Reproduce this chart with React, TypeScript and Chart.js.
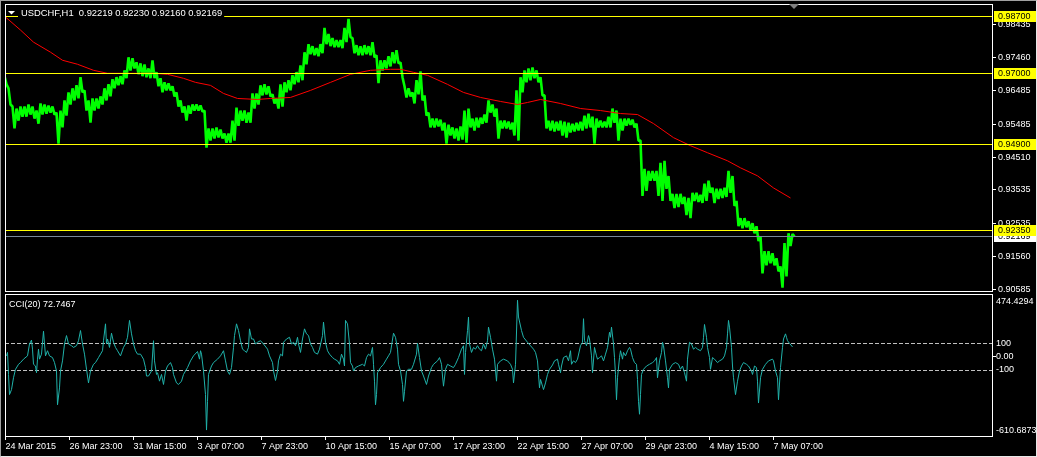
import React, { useEffect, useRef } from 'react';
import { Chart, registerables } from 'chart.js';

Chart.register(...registerables);

const FONT_FAMILY = '"Liberation Sans", Arial, sans-serif';
const FONT9 = '9px "Liberation Sans", Arial, sans-serif';
const FONT_TITLE = '9.4px "Liberation Sans", Arial, sans-serif';

const SYMBOL_TITLE = 'USDCHF,H1  0.92219 0.92230 0.92160 0.92169';
const CCI_TITLE = 'CCI(20) 72.7467';

// each price sample covers 4 hourly bars
const BAR_STEP = 4;
const highs = [
  0.9691, 0.9655, 0.9601, 0.9595, 0.9601, 0.9601, 0.9607, 0.9601, 0.9589, 0.9610,
  0.9607, 0.9604, 0.9601, 0.9583, 0.9589, 0.9619, 0.9643, 0.9655, 0.9664, 0.9688,
  0.9649, 0.9619, 0.9625, 0.9625, 0.9631, 0.9655, 0.9667, 0.9682, 0.9688, 0.9691,
  0.9708, 0.9747, 0.9744, 0.9732, 0.9729, 0.9726, 0.9714, 0.9738, 0.9703, 0.9685,
  0.9673, 0.9670, 0.9661, 0.9643, 0.9619, 0.9601, 0.9604, 0.9607, 0.9607, 0.9604,
  0.9589, 0.9536, 0.9536, 0.9539, 0.9533, 0.9521, 0.9521, 0.9559, 0.9598, 0.9589,
  0.9589, 0.9583, 0.9640, 0.9640, 0.9664, 0.9667, 0.9661, 0.9637, 0.9625, 0.9667,
  0.9673, 0.9679, 0.9694, 0.9703, 0.9723, 0.9762, 0.9786, 0.9780, 0.9774, 0.9786,
  0.9834, 0.9816, 0.9804, 0.9798, 0.9798, 0.9834, 0.9861, 0.9804, 0.9783, 0.9780,
  0.9783, 0.9780, 0.9792, 0.9753, 0.9738, 0.9738, 0.9750, 0.9762, 0.9768, 0.9732,
  0.9661, 0.9655, 0.9643, 0.9679, 0.9705, 0.9634, 0.9583, 0.9565, 0.9565, 0.9562,
  0.9553, 0.9547, 0.9539, 0.9536, 0.9542, 0.9589, 0.9595, 0.9565, 0.9568, 0.9568,
  0.9577, 0.9619, 0.9607, 0.9595, 0.9559, 0.9559, 0.9556, 0.9553, 0.9649, 0.9688,
  0.9708, 0.9714, 0.9717, 0.9708, 0.9688, 0.9634, 0.9559, 0.9559, 0.9556, 0.9559,
  0.9556, 0.9553, 0.9550, 0.9553, 0.9556, 0.9574, 0.9580, 0.9571, 0.9565, 0.9559,
  0.9556, 0.9571, 0.9595, 0.9589, 0.9565, 0.9565, 0.9565, 0.9562, 0.9550, 0.9500,
  0.9416, 0.9410, 0.9410, 0.9410, 0.9434, 0.9440, 0.9395, 0.9342, 0.9342, 0.9342,
  0.9333, 0.9330, 0.9345, 0.9345, 0.9339, 0.9372, 0.9381, 0.9360, 0.9357, 0.9357,
  0.9360, 0.9410, 0.9395, 0.9321, 0.9270, 0.9270, 0.9261, 0.9255, 0.9246, 0.9216,
  0.9172, 0.9172, 0.9166, 0.9151, 0.9127, 0.9196, 0.9225, 0.9223,
];
const lows = [
  0.9667, 0.9607, 0.9536, 0.9559, 0.9571, 0.9571, 0.9577, 0.9565, 0.9550, 0.9577,
  0.9580, 0.9583, 0.9577, 0.9491, 0.9539, 0.9574, 0.9607, 0.9619, 0.9625, 0.9643,
  0.9589, 0.9553, 0.9589, 0.9595, 0.9607, 0.9619, 0.9631, 0.9655, 0.9664, 0.9667,
  0.9685, 0.9708, 0.9714, 0.9697, 0.9691, 0.9688, 0.9685, 0.9685, 0.9661, 0.9643,
  0.9649, 0.9649, 0.9631, 0.9601, 0.9583, 0.9559, 0.9580, 0.9589, 0.9589, 0.9586,
  0.9479, 0.9500, 0.9506, 0.9509, 0.9506, 0.9494, 0.9494, 0.9500, 0.9544, 0.9559,
  0.9553, 0.9553, 0.9595, 0.9607, 0.9634, 0.9637, 0.9631, 0.9610, 0.9595, 0.9601,
  0.9643, 0.9649, 0.9667, 0.9673, 0.9679, 0.9726, 0.9756, 0.9753, 0.9750, 0.9759,
  0.9786, 0.9780, 0.9777, 0.9777, 0.9774, 0.9792, 0.9807, 0.9759, 0.9753, 0.9753,
  0.9756, 0.9753, 0.9747, 0.9670, 0.9708, 0.9714, 0.9720, 0.9729, 0.9729, 0.9688,
  0.9628, 0.9631, 0.9610, 0.9637, 0.9619, 0.9574, 0.9539, 0.9539, 0.9542, 0.9530,
  0.9491, 0.9515, 0.9506, 0.9500, 0.9503, 0.9494, 0.9539, 0.9530, 0.9539, 0.9550,
  0.9553, 0.9583, 0.9571, 0.9506, 0.9536, 0.9536, 0.9533, 0.9515, 0.9500, 0.9643,
  0.9673, 0.9679, 0.9685, 0.9673, 0.9634, 0.9536, 0.9530, 0.9527, 0.9530, 0.9515,
  0.9509, 0.9524, 0.9527, 0.9530, 0.9530, 0.9536, 0.9539, 0.9491, 0.9539, 0.9539,
  0.9539, 0.9539, 0.9553, 0.9500, 0.9530, 0.9544, 0.9547, 0.9539, 0.9500, 0.9336,
  0.9351, 0.9381, 0.9381, 0.9336, 0.9321, 0.9357, 0.9321, 0.9300, 0.9303, 0.9312,
  0.9279, 0.9270, 0.9321, 0.9318, 0.9315, 0.9321, 0.9345, 0.9315, 0.9327, 0.9330,
  0.9333, 0.9345, 0.9306, 0.9246, 0.9240, 0.9243, 0.9234, 0.9225, 0.9202, 0.9106,
  0.9130, 0.9136, 0.9130, 0.9112, 0.9064, 0.9097, 0.9187, 0.9216,
];

// moving average (red)
const maBars = [0, 15, 28, 45, 57, 72, 88, 102, 128, 148, 162, 178, 190, 205, 218, 232, 252, 265, 285, 305,
  325, 345, 365, 385, 395, 408, 422, 442, 458, 475, 495, 512, 522, 535, 555, 575, 595, 615, 632, 648,
  668, 685, 702, 722, 735, 752, 768, 785];
const maValues = [0.98664, 0.98277, 0.97919, 0.97621, 0.97382, 0.97263, 0.97084, 0.96995, 0.96995, 0.96995,
  0.96965, 0.96846, 0.96726, 0.96637, 0.96398, 0.96249, 0.96219, 0.96249, 0.96279, 0.96488,
  0.96726, 0.96965, 0.97084, 0.97114, 0.97114, 0.97024, 0.96935, 0.96667, 0.96428, 0.96279,
  0.96160, 0.96070, 0.96130, 0.96219, 0.96100, 0.95951, 0.95891, 0.95802, 0.95772, 0.95504,
  0.95087, 0.94848, 0.94640, 0.94401, 0.94192, 0.93954, 0.93596, 0.93298];

// CCI(20)
const cciBars = [1, 2, 3, 4, 6, 8, 10, 12, 13, 15, 18, 22, 24, 26, 27, 28, 30, 31, 32, 33, 34, 36, 38, 39, 40, 42, 44, 47, 49, 51,
  52, 54, 55, 57, 59, 61, 63, 66, 68, 71, 73, 75, 77, 79, 81, 83, 85, 88, 90, 93, 97, 98, 100, 101, 102, 104, 106, 108, 110, 112,
  115, 118, 120, 122, 124, 126, 128, 130, 132, 135, 138, 140, 141, 143, 146, 148, 149, 151, 152, 154, 156, 158, 160, 162, 165, 167, 168, 171, 173, 176,
  178, 182, 185, 188, 192, 194, 195, 196, 198, 200, 201, 202, 203, 206, 208, 212, 215, 218, 220, 222, 224, 226, 228, 229, 231, 233, 235, 237, 239, 241,
  243, 244, 246, 248, 250, 252, 255, 258, 262, 264, 267, 268, 270, 272, 273, 275, 277, 278, 281, 284, 286, 288, 290, 292, 293, 295, 297, 299, 301, 303,
  305, 307, 309, 312, 314, 317, 318, 320, 322, 324, 327, 329, 332, 334, 336, 338, 339, 340, 342, 344, 345, 347, 348, 350, 353, 357, 359, 361, 363, 365,
  367, 368, 369, 370, 371, 372, 375, 378, 381, 383, 385,
  388, 390, 392, 393, 395, 397, 398, 399, 401, 403, 406, 408, 411, 412, 414, 416, 418, 421, 423, 426, 428, 432, 434, 436, 437, 438, 440, 442, 445, 448,
  450, 453, 456, 458, 459, 460, 462, 463, 464, 466, 468, 470, 472, 474, 476, 478, 480, 482, 483, 485, 487, 489, 491, 492, 495, 498, 502, 505, 507, 508,
  510, 512, 513, 516, 518, 522, 525, 528, 530, 532, 533, 534, 535, 537, 538, 540, 542, 544, 547, 549, 552, 553, 555, 556, 558, 561, 563, 565, 566, 568,
  570, 572, 575, 577, 578, 579, 581, 583, 584, 586, 587, 589, 591, 592, 594, 596, 598, 600, 602, 604, 605, 606, 608, 609, 610, 611, 612, 614, 615, 617,
  618, 620, 622, 624, 625, 627, 629, 631, 632, 633, 634, 635, 636, 638, 641, 644, 647, 649, 651, 652, 654, 656, 657, 658, 660, 662, 663, 664, 667, 670,
  673, 675, 677, 679, 681, 682, 684, 686, 688, 690, 692, 695, 697, 698, 699, 701, 702, 704, 705, 707, 709, 712, 714, 717, 719, 721, 722, 723, 724, 726,
  727, 728, 730, 732, 734, 736, 738, 741, 743, 746, 747, 749, 751, 752, 753, 755, 757, 760, 763, 767, 768, 770, 772, 773, 775, 777, 778, 780, 781, 782,
  784, 787];
const cciValues = [5, 31, -136, -289, -251, -161, -97, -72, -59, -46, -20, 5, 95, 125, 56, -59, -72, -123, -20, 56, -20, 18, 192, 95, 5, 44, 5, -8, -46, -110,
  -366, -238, -110, -33, 95, 159, 95, 82, 69, 82, 120, 197, 95, 18, -97, -200, -110, -59, -46, -8, 44, 120, 248, 95, 133, 69, 177, 108, 69, 44,
  5, 69, 95, 146, 274, 172, 95, 44, 18, 18, -20, -84, -148, -148, -110, 120, -33, -136, -123, -187, -136, -212, -110, -72, -46, -84, -136, -200, -212, -187,
  -136, -84, -33, 5, 38, -20, 44, 18, -110, -289, -558, -340, -136, -72, -46, -20, 5, 44, -33, -110, -136, -84, 69, 159, 248, 197, 120, 56, 44, 31,
  69, 210, 133, 133, 95, 108, 120, 95, 56, 5, -46, -110, -182, -110, -33, 18, 5, 108, 133, 146, 95, 108, 82, 146, 95, 31, 133, 210, 172, 159,
  95, 69, 31, 18, 56, 159, 261, 108, 44, 18, -8, -20, -33, -59, 18, -20, -72, 274, 248, 95, -46, -72, -110, -84, -72, -59, -72, -8, 18, 5,
  69, -59, -187, -366, -289, -123, -84, -59, -20, 5, 31,
  177, 146, 56, -59, -110, -212, -340, -264, -110, -97, -97, -59, 18, 100, -8, -110, -148, -212, -148, -84, -59, -33, -8, -59, -148, -225, -97, -59, -72, -84,
  -59, -8, 56, 82, -136, 31, 197, 300, 95, 31, 69, 56, 82, 56, 44, 95, 56, 120, 223, 146, 56, -20, -187, -59, -33, -20, -33, -59, -97, -200,
  -59, 427, 300, 197, 146, 108, 82, 56, 31, -33, -136, -238, -174, -225, -251, -200, -136, -97, -64, -33, -20, -59, -123, -72, -8, 5, -33, 44, -59, -33,
  -46, -20, 82, 108, 287, 120, 82, 159, 133, 5, -123, 69, 5, -20, -8, 5, -33, 18, 69, 184, 146, 223, 95, -8, -136, -328, -161, -8, 44, -20,
  31, 5, 44, 69, 56, -8, -46, -59, -174, -340, -438, -289, -136, -97, -72, -59, -46, -33, -8, -161, -33, 31, 108, 82, -33, -161, -238, -97, -59, -46,
  -59, -97, -72, -123, -187, -20, 108, 95, 56, 69, 56, 44, 69, 146, 243, 146, 69, -8, -97, -8, -20, -46, -33, -20, 5, 69, 172, 274, 223, 69,
  -72, -161, -289, -187, -110, -72, -46, -59, -72, -110, -136, -72, -84, -187, -353, -161, -97, -59, -33, -20, -33, -110, -161, -328, -84, 69, 133, 172, 146, 120,
  100, 72.7467];

const priceTicks = [0.98435, 0.97460, 0.96485, 0.95485, 0.94510, 0.93535, 0.92535, 0.91560, 0.90585];
const levelLines = [0.987, 0.97, 0.949, 0.9235];
const bidPrice = 0.92169;
const PRICE_MIN = 0.9051;
const PRICE_MAX = 0.9905;

const CCI_MAX = 474.4294;
const CCI_MIN = -610.6873;
const cciLevels = [100, -100];
const cciAxisTicks = [100, 0, -100];

const timeTickBars = [0, 64, 128, 192, 256, 320, 384, 448, 512, 576, 640, 704, 768];
const timeLabels = ['24 Mar 2015', '26 Mar 23:00', '31 Mar 15:00', '3 Apr 07:00', '7 Apr 23:00', '10 Apr 15:00',
  '15 Apr 07:00', '17 Apr 23:00', '22 Apr 15:00', '27 Apr 07:00', '29 Apr 23:00', '4 May 15:00', '7 May 07:00'];

const X_MIN = -0.5;
const X_MAX = 987.5;
const LAST_BAR = (highs.length - 1) * BAR_STEP;

const W = 1037;
const H1 = 293;
const H2 = 164;

const pricePlugin = {
  id: 'pricePlugin',
  afterDatasetsDraw(chart: any) {
    const { ctx, chartArea: a, scales } = chart;
    const y = scales.y;
    ctx.save();
    ctx.lineWidth = 1;
    const by = Math.round(y.getPixelForValue(bidPrice)) + 0.5;
    ctx.strokeStyle = '#778899';
    ctx.beginPath();
    ctx.moveTo(a.left, by);
    ctx.lineTo(a.right, by);
    ctx.stroke();
    ctx.strokeStyle = '#ffff00';
    levelLines.forEach((v) => {
      const py = Math.round(y.getPixelForValue(v)) + 0.5;
      ctx.beginPath();
      ctx.moveTo(a.left, py);
      ctx.lineTo(a.right, py);
      ctx.stroke();
    });
    ctx.restore();
  },
  afterDraw(chart: any) {
    const { ctx, chartArea: a, scales } = chart;
    const y = scales.y;
    const x = scales.x;
    ctx.save();
    ctx.strokeStyle = '#ffffff';
    ctx.lineWidth = 1;
    ctx.strokeRect(a.left + 0.5, a.top + 0.5, a.right - a.left - 1, a.bottom - a.top - 1);
    // title
    ctx.font = FONT_TITLE;
    ctx.textAlign = 'left';
    ctx.textBaseline = 'alphabetic';
    const tw = ctx.measureText(SYMBOL_TITLE).width;
    ctx.fillStyle = '#000000';
    ctx.fillRect(a.left + 13, a.top + 3, tw + 5, 11);
    ctx.fillStyle = '#ffffff';
    ctx.beginPath();
    ctx.moveTo(a.left + 3, a.top + 7);
    ctx.lineTo(a.left + 10, a.top + 7);
    ctx.lineTo(a.left + 6.5, a.top + 10.5);
    ctx.closePath();
    ctx.fill();
    ctx.fillText(SYMBOL_TITLE, a.left + 16, a.top + 12);
    // chart shift marker
    const sx = Math.round(x.getPixelForValue(LAST_BAR));
    ctx.fillStyle = '#808080';
    ctx.beginPath();
    ctx.moveTo(sx - 5, a.top);
    ctx.lineTo(sx + 5, a.top);
    ctx.lineTo(sx, a.top + 5);
    ctx.closePath();
    ctx.fill();
    // price boxes on the axis
    ctx.font = FONT9;
    const boxAt = (v: number, bg: string, fg: string) => {
      const py = Math.round(y.getPixelForValue(v));
      ctx.fillStyle = bg;
      ctx.fillRect(a.right + 1, py - 5, W - a.right - 1, 11);
      ctx.fillStyle = fg;
      ctx.textBaseline = 'middle';
      ctx.fillText(v.toFixed(5), a.right + 5, py + 0.5);
    };
    boxAt(bidPrice, '#ffffff', '#000000');
    levelLines.forEach((v) => boxAt(v, '#ffff00', '#000000'));
    ctx.restore();
  },
};

const cciPlugin = {
  id: 'cciPlugin',
  beforeDatasetsDraw(chart: any) {
    const { ctx, chartArea: a, scales } = chart;
    const y = scales.y;
    ctx.save();
    ctx.strokeStyle = '#c0c0c0';
    ctx.lineWidth = 1;
    ctx.setLineDash([4, 2]);
    cciLevels.forEach((v) => {
      const py = Math.round(y.getPixelForValue(v)) + 0.5;
      ctx.beginPath();
      ctx.moveTo(a.left, py);
      ctx.lineTo(a.right, py);
      ctx.stroke();
    });
    ctx.restore();
  },
  afterDraw(chart: any) {
    const { ctx, chartArea: a } = chart;
    ctx.save();
    ctx.strokeStyle = '#ffffff';
    ctx.lineWidth = 1;
    ctx.strokeRect(a.left + 0.5, a.top + 0.5, a.right - a.left - 1, a.bottom - a.top - 1);
    ctx.font = FONT9;
    ctx.fillStyle = '#ffffff';
    ctx.textAlign = 'left';
    ctx.textBaseline = 'alphabetic';
    ctx.fillText(CCI_TITLE, a.left + 4, a.top + 13);
    ctx.textBaseline = 'middle';
    ctx.fillText(CCI_MAX.toFixed(4), a.right + 3, a.top + 7.5);
    ctx.fillText(CCI_MIN.toFixed(4), a.right + 3, a.bottom - 6);
    ctx.restore();
  },
};

export default function App() {
  const ref1 = useRef<HTMLCanvasElement>(null);
  const ref2 = useRef<HTMLCanvasElement>(null);

  useEffect(() => {
    // hourly bar ranges traced as a dense zig-zag between each sample's high and low
    const priceTrace = highs.flatMap((h, k) => [
      { x: k * BAR_STEP - 1, y: h },
      { x: k * BAR_STEP + 1, y: lows[k] },
    ]);
    const maData = maBars.map((b, k) => ({ x: b, y: maValues[k] }));
    const cciData = cciBars.map((b, k) => ({ x: b, y: cciValues[k] }));
    const font = { family: FONT_FAMILY, size: 9 };

    const c1 = new Chart(ref1.current as HTMLCanvasElement, {
      type: 'line',
      data: {
        datasets: [
          { data: maData as any, borderColor: '#ff0000', borderWidth: 1, pointRadius: 0, tension: 0, order: 0 } as any,
          { data: priceTrace as any, borderColor: '#00ff00', borderWidth: 2.6, borderJoinStyle: 'bevel', pointRadius: 0, tension: 0, order: 1 } as any,
        ],
      },
      options: {
        responsive: false,
        animation: false,
        events: [],
        layout: { padding: { left: 5, top: 4, right: 0, bottom: 1 }, autoPadding: false } as any,
        plugins: { legend: { display: false }, tooltip: { enabled: false } },
        scales: {
          x: { type: 'linear', min: X_MIN, max: X_MAX, display: false, offset: false },
          y: {
            type: 'linear',
            position: 'right',
            min: PRICE_MIN,
            max: PRICE_MAX,
            afterBuildTicks: (s: any) => { s.ticks = priceTicks.map((v) => ({ value: v })); },
            afterFit: (s: any) => { s.width = 44; s.paddingTop = 0; s.paddingBottom = 0; },
            grid: { display: true, drawOnChartArea: false, drawTicks: true, tickLength: 3, color: '#ffffff' },
            border: { display: false },
            ticks: { color: '#ffffff', font, padding: 2, autoSkip: false, callback: (v: any) => Number(v).toFixed(5) },
          },
        },
      } as any,
      plugins: [pricePlugin],
    });

    const c2 = new Chart(ref2.current as HTMLCanvasElement, {
      type: 'line',
      data: {
        datasets: [
          { data: cciData as any, borderColor: '#20b2aa', borderWidth: 1, pointRadius: 0, tension: 0 } as any,
        ],
      },
      options: {
        responsive: false,
        animation: false,
        events: [],
        layout: { padding: { left: 5, top: 1, right: 0, bottom: 0 }, autoPadding: false } as any,
        plugins: { legend: { display: false }, tooltip: { enabled: false } },
        scales: {
          x: {
            type: 'linear',
            min: X_MIN,
            max: X_MAX,
            position: 'bottom',
            offset: false,
            afterBuildTicks: (s: any) => { s.ticks = timeTickBars.map((v) => ({ value: v })); },
            afterFit: (s: any) => { s.height = 20; s.paddingLeft = 0; s.paddingRight = 0; },
            grid: { display: true, drawOnChartArea: false, drawTicks: true, tickLength: 3, color: '#ffffff' },
            border: { display: false },
            ticks: {
              color: '#ffffff', font, padding: 1, autoSkip: false, maxRotation: 0, minRotation: 0, align: 'start',
              callback: (_v: any, i: number) => timeLabels[i],
            },
          },
          y: {
            type: 'linear',
            position: 'right',
            min: CCI_MIN,
            max: CCI_MAX,
            afterBuildTicks: (s: any) => { s.ticks = cciAxisTicks.map((v) => ({ value: v })); },
            afterFit: (s: any) => { s.width = 44; s.paddingTop = 0; s.paddingBottom = 0; },
            grid: {
              display: true, drawOnChartArea: false, drawTicks: true, tickLength: 3,
              color: (c: any) => (c.tick && c.tick.value === 0 ? '#ffffff' : 'rgba(0,0,0,0)'),
            },
            border: { display: false },
            ticks: {
              color: '#ffffff', font, padding: 0, autoSkip: false,
              callback: (v: any) => (Number(v) === 0 ? '0.00' : String(v)),
            },
          },
        },
      } as any,
      plugins: [cciPlugin],
    });

    return () => {
      c1.destroy();
      c2.destroy();
    };
  }, []);

  return (
    <div style={{ position: 'fixed', left: 0, top: 0, width: W, height: H1 + H2, background: '#000000', overflow: 'hidden' }}>
      <canvas ref={ref1} width={W} height={H1} style={{ position: 'absolute', left: 0, top: 0, width: W, height: H1 }} />
      <canvas ref={ref2} width={W} height={H2} style={{ position: 'absolute', left: 0, top: H1, width: W, height: H2 }} />
      <div style={{
        position: 'absolute', left: 0, top: 0, width: W, height: H1 + H2, boxSizing: 'border-box', pointerEvents: 'none',
        borderTop: '1px solid #a0a0a0', borderLeft: '1px solid #a0a0a0', borderBottom: '1px solid #e8e8e8', borderRight: '1px solid #e8e8e8',
      }} />
    </div>
  );
}
